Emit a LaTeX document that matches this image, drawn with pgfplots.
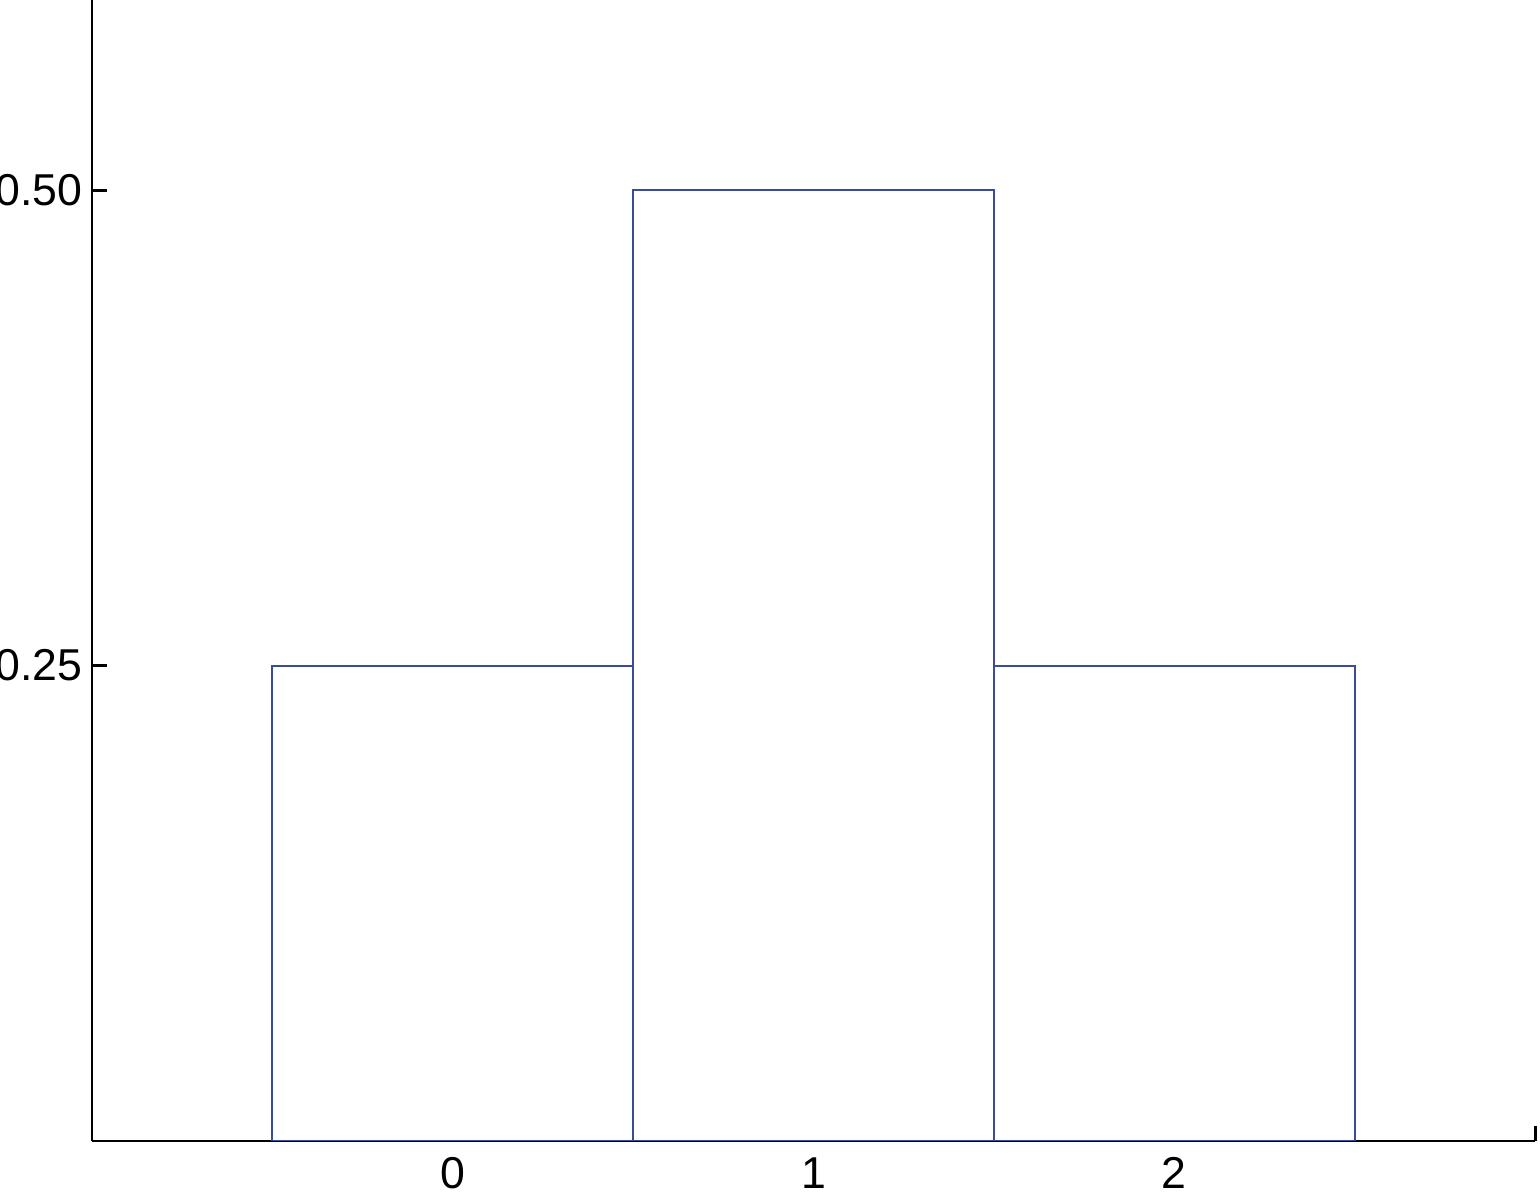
\documentclass[border=0pt]{standalone}
\usepackage{fontspec}
\setmainfont{Liberation Sans}
\usepackage{pgfplots}
\pgfplotsset{compat=1.18}
\usetikzlibrary{calc}
\definecolor{barblue}{HTML}{3B4A9B}

\begin{document}
\begin{tikzpicture}
\begin{axis}[
  scale only axis, width=14.43cm, height=11.41cm,
  xmin=-1, xmax=3, ymin=0, ymax=0.6,
  axis x line=bottom, axis y line=left,
  axis line style={-, line width=0.85pt, black},
  xtick={0,1,2}, xticklabels={0,1,2},
  xtick style={draw=none},
  extra x ticks={3}, extra x tick labels={},
  extra x tick style={xtick style={draw=black, line width=0.85pt}, tick align=inside, major tick length=0.15cm},
  ytick={0.25,0.5}, yticklabels={0.25,0.50},
  ytick style={line width=0.85pt, black},
  tick align=inside, major tick length=0.15cm,
  ticklabel style={font=\fontsize{12.7}{15}\selectfont},
  yticklabel style={xshift=0.03cm},
  xticklabel style={inner sep=0pt, yshift=-0.16cm},
  /pgf/number format/assume math mode=true,
]
\addplot[ybar, bar width=1, draw=barblue, line width=0.6pt, fill=none] coordinates {(0,0.25) (1,0.5) (2,0.25)};
\end{axis}
% the reference page is cut tight round the axis, clipping the labels
\pgfresetboundingbox
\useasboundingbox ($(current axis.south west)+(-0.92cm,-0.55cm)$) rectangle ($(current axis.north east)+(0.05cm,0)$);
\end{tikzpicture}
\end{document}
